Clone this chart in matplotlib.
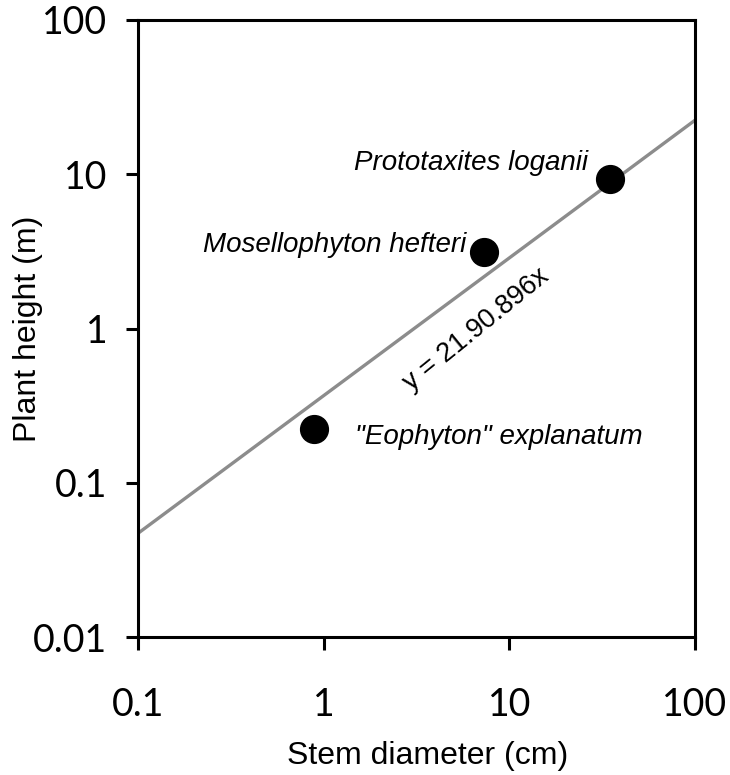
import matplotlib.pyplot as plt

# species data (stem diameter in cm, plant height in m)
species = ["\"Eophyton\" explanatum", "Mosellophyton hefteri", "Prototaxites loganii"]
diameter = [0.887, 7.3, 34.8]
height = [0.222, 3.13, 9.31]

# fitted power-law line at the axis edges
fit_x = [0.1, 100]
fit_y = [0.047, 22.4]
eq_text = "y = 21.90.896x"

xticks = [0.1, 1, 10, 100]
xticklabels = ["0.1", "1", "10", "100"]
yticks = [0.01, 0.1, 1, 10, 100]
yticklabels = ["0.01", "0.1", "1", "10", "100"]

plt.rcParams['font.family'] = ['Liberation Sans', 'DejaVu Sans']

fig = plt.figure(figsize=(7.3, 7.75), dpi=100)
ax = fig.add_axes([138/730, 1-637/775, (695-138)/730, (637-20)/775])

ax.plot(fit_x, fit_y, color="#8c8c8c", lw=2.4, zorder=2)
ax.plot(diameter, height, "o", color="black", ms=20, zorder=3)

ax.set_xscale("log")
ax.set_yscale("log")
ax.set_xlim(0.1, 100)
ax.set_ylim(0.01, 100)
ax.set_xticks(xticks)
ax.set_xticklabels(xticklabels, family="Lato")
ax.set_yticks(yticks)
ax.set_yticklabels(yticklabels, family="Lato")
ax.minorticks_off()
ax.tick_params(direction="out", length=9, width=2.2, labelsize=27)
ax.tick_params(axis="x", pad=27)
ax.tick_params(axis="y", pad=13)
for s in ax.spines.values():
    s.set_linewidth(2.2)

ax.set_xlabel("Stem diameter (cm)", fontsize=23, va="center")
ax.xaxis.set_label_coords(0.52, -0.193)
ax.set_ylabel("Plant height (m)", fontsize=23, va="center")
ax.yaxis.set_label_coords(-0.197, 0.5)

# species labels
ax.text(26.5, 11.8, species[2], fontsize=20, style="italic", ha="right", va="center")
ax.text(5.85, 3.48, species[1], fontsize=20, style="italic", ha="right", va="center")
ax.text(1.48, 0.198, species[0], fontsize=20, style="italic", ha="left", va="center")
ax.text(6.6, 0.98, eq_text, fontsize=19.5, rotation=39, ha="center", va="center",
        rotation_mode="anchor")

fig.savefig("out.png", dpi=100)
